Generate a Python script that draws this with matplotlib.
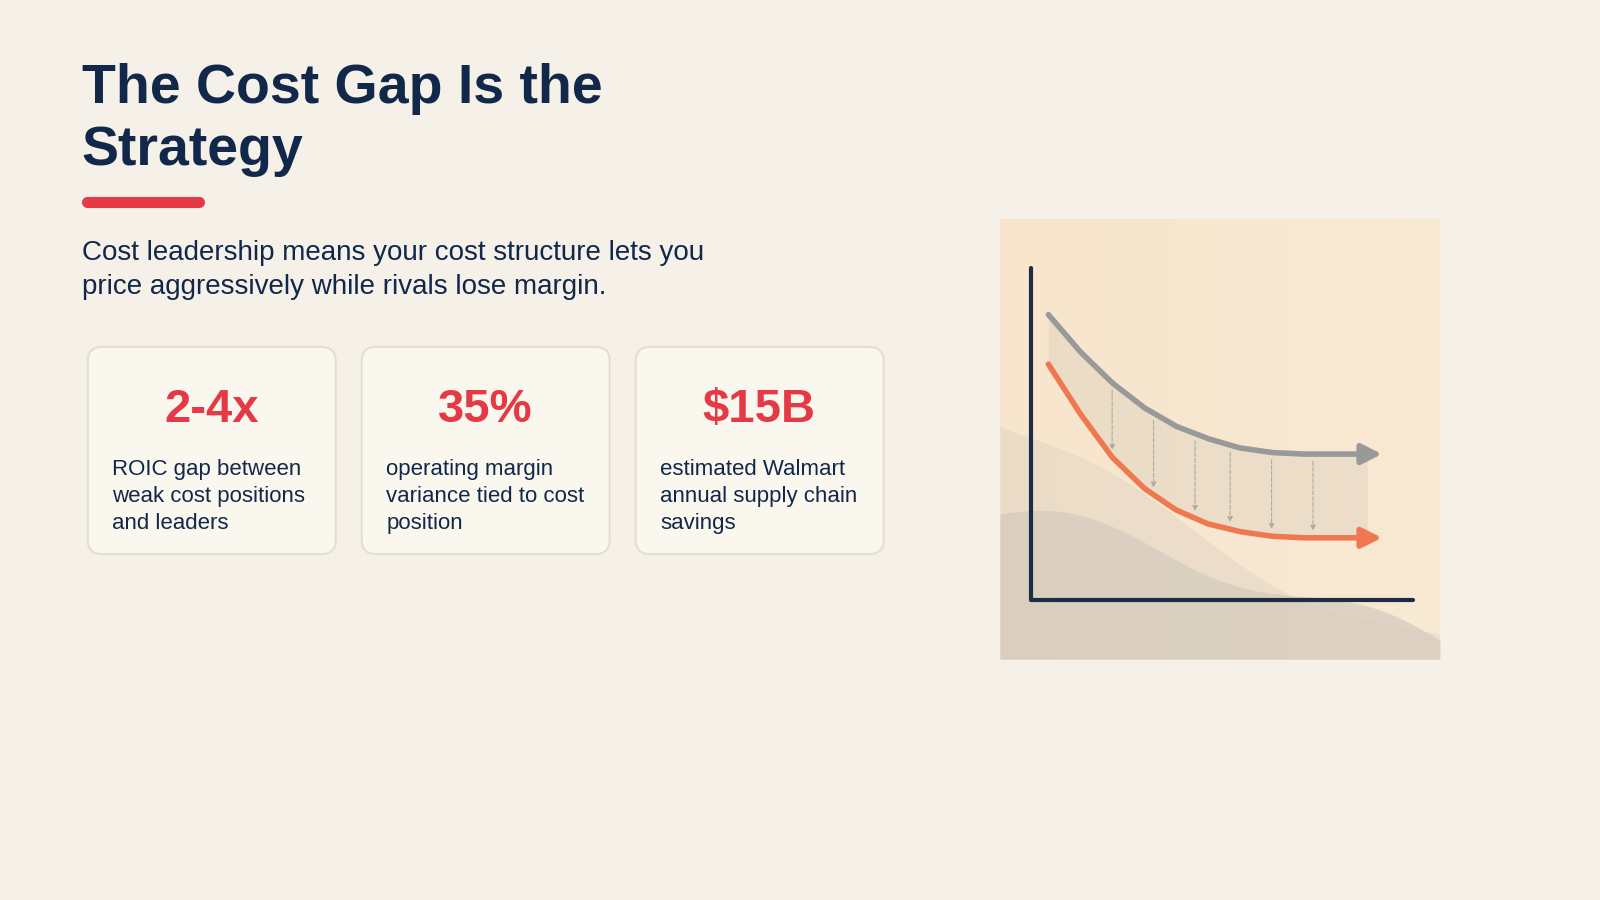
import matplotlib
matplotlib.use("Agg")
import matplotlib.pyplot as plt
from matplotlib.patches import FancyBboxPatch
import numpy as np

plt.rcParams['font.family'] = ['Liberation Sans', 'DejaVu Sans']

title_lines = ["The Cost Gap Is the", "Strategy"]
subtitle_lines = ["Cost leadership means your cost structure lets you",
                  "price aggressively while rivals lose margin."]
stat_values = ["2-4x", "35%", "$15B"]
stat_labels = [["ROIC gap between", "weak cost positions", "and leaders"],
               ["operating margin", "variance tied to cost", "position"],
               ["estimated Walmart", "annual supply chain", "savings"]]

# illustration curves (x in 0..1, cost level 0..1)
curve_x = [0.0, 0.1, 0.2, 0.3, 0.4, 0.5, 0.6, 0.7, 0.8, 0.9, 1.0]
rival_cost = [0.92, 0.80, 0.70, 0.62, 0.56, 0.52, 0.49, 0.475, 0.47, 0.47, 0.47]
leader_cost = [0.76, 0.60, 0.46, 0.36, 0.29, 0.245, 0.22, 0.205, 0.20, 0.20, 0.20]
gap_x = [0.2, 0.33, 0.46, 0.57, 0.70, 0.83]

BG = "#f5f0e8"
NAVY = "#12284a"
RED = "#e63946"

fig = plt.figure(figsize=(16, 9), dpi=100, facecolor=BG)
ax = fig.add_axes([0, 0, 1, 1])
ax.set_xlim(0, 1568); ax.set_ylim(882, 0); ax.axis('off')
ax.set_facecolor(BG)

ax.text(80, 87, title_lines[0], fontsize=40, fontweight='bold', color=NAVY, va='center')
ax.text(80, 148, title_lines[1], fontsize=40, fontweight='bold', color=NAVY, va='center')
ax.plot([85, 195], [198, 198], color=RED, lw=8, solid_capstyle='round')
ax.text(80, 248, subtitle_lines[0], fontsize=20, color=NAVY, va='center')
ax.text(80, 281, subtitle_lines[1], fontsize=20, color=NAVY, va='center')

for i, (v, lab) in enumerate(zip(stat_values, stat_labels)):
    x0 = 86 + i * 268.5
    ax.add_patch(FancyBboxPatch((x0, 340), 243, 203, boxstyle="round,pad=0,rounding_size=14",
                                fc="#faf7ee", ec="#e6dfcc", lw=1.5))
    ax.text(x0 + 121, 402, v, fontsize=34, fontweight='bold', color=RED, ha='center', va='center')
    for j, l in enumerate(lab):
        ax.text(x0 + 24, 460 + j * 26.5, l, fontsize=16, color=NAVY, va='center')

# illustration
ia = fig.add_axes([980/1568, 1 - 646/882, 431/1568, 431/882])
ia.set_xlim(0, 1); ia.set_ylim(0, 1); ia.axis('off')
grad = np.linspace(0, 1, 200)
X, Y = np.meshgrid(grad, grad)
c1 = np.array([0.97, 0.90, 0.80]); c2 = np.array([0.98, 0.93, 0.86])
img = c1 * (1 - X[..., None] * 0.5) + c2 * (X[..., None] * 0.5)
ia.imshow(img, extent=[0, 1, 0, 1], origin='lower', zorder=0)
hx = np.linspace(0, 1, 50)
hill = 0.33 - 0.3 * hx ** 1.3 + 0.03 * np.sin(hx * 9)
ia.fill_between(hx, 0, np.clip(hill, 0, None), color="#c9c1b6", alpha=0.55, lw=0, zorder=1)
hill2 = 0.53 - 0.5 * hx ** 0.9 + 0.04 * np.sin(hx * 7)
ia.fill_between(hx, 0, np.clip(hill2, 0, None), color="#d6cdc0", alpha=0.35, lw=0, zorder=1)

ox, oy, ex = 0.07, 0.135, 0.94
def px(v): return 0.11 + v * (0.835 - 0.11)
def py(v): return oy + v * (0.84 - oy) / 0.92 * 0.92 + 0.0
xs = np.linspace(0, 1, 200)
r = np.interp(xs, curve_x, rival_cost); l = np.interp(xs, curve_x, leader_cost)
ia.fill_between([px(v) for v in xs], [py(v) for v in l], [py(v) for v in r], color="#bdb5ab", alpha=0.2, lw=0, zorder=2)
ia.plot([px(v) for v in xs], [py(v) for v in r], color="#999999", lw=4, zorder=3, solid_capstyle='round')
ia.plot([px(v) for v in xs], [py(v) for v in l], color="#f07850", lw=4, zorder=3, solid_capstyle='round')
ia.annotate("", xy=(px(1) + 0.04, py(rival_cost[-1])), xytext=(px(1) - 0.01, py(rival_cost[-1])),
            arrowprops=dict(arrowstyle="-|>,head_width=0.6,head_length=1.2", color="#999999", lw=4), zorder=4)
ia.annotate("", xy=(px(1) + 0.04, py(leader_cost[-1])), xytext=(px(1) - 0.01, py(leader_cost[-1])),
            arrowprops=dict(arrowstyle="-|>,head_width=0.6,head_length=1.2", color="#f07850", lw=4), zorder=4)
for g in gap_x:
    ia.annotate("", xy=(px(g), py(np.interp(g, curve_x, leader_cost)) + 0.01),
                xytext=(px(g), py(np.interp(g, curve_x, rival_cost)) - 0.01),
                arrowprops=dict(arrowstyle="-|>,head_width=0.15,head_length=0.3", color="#b0aaa2", lw=0.8, ls='--'), zorder=3)
ia.plot([ox, ox, ex], [0.89, oy, oy], color="#1e2d45", lw=3, zorder=5, solid_capstyle='round')

fig.savefig("out.png", dpi=100, facecolor=BG)
